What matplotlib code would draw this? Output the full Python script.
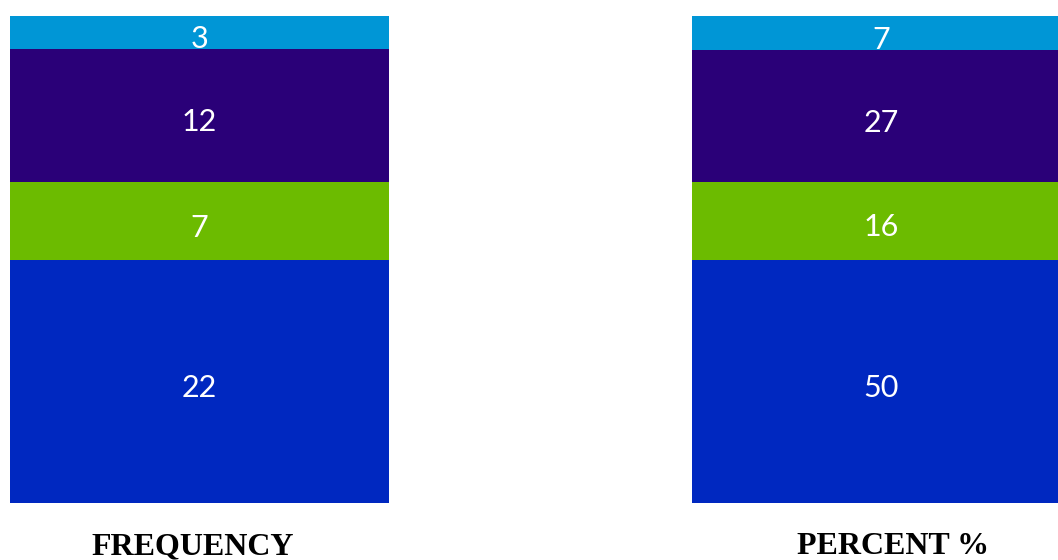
import numpy as np
import matplotlib
matplotlib.use('Agg')
import matplotlib.pyplot as plt

# DATA
frequency = [22, 7, 12, 3]      # bottom -> top
percent = [50, 16, 27, 7]       # bottom -> top
bar_labels = ['FREQUENCY', 'PERCENT %']
colors = ['#0028C0', '#6CBB00', '#2A0078', '#0096D6']

W, H = 1058, 560
fig = plt.figure(figsize=(W / 100, H / 100), dpi=100)

# AXES POSITIONS (pixels -> figure fraction)
bottom = (H - 503) / H
height = 487 / H
ax_left = fig.add_axes([10 / W, bottom, 379 / W, height])
ax_right = fig.add_axes([692 / W, bottom, 379 / W, height])


def stacked_bar(ax, values):
    base = 0
    for v, c in zip(values, colors):
        ax.bar(0, v, bottom=base, width=1.0, color=c, edgecolor='none')
        ax.text(0, base + v / 2 - sum(values) * 0.014, str(v), ha='center', va='center',
                color='white', fontsize=22, family='Lato')
        base += v
    ax.set_xlim(-0.5, 0.5)
    ax.set_ylim(0, sum(values))
    ax.axis('off')


stacked_bar(ax_left, frequency)
stacked_bar(ax_right, percent)

# LABELS UNDER THE BARS
fig.text(193 / W, 1 - 547 / H, bar_labels[0], ha='center', va='center',
         fontsize=23, fontweight='bold', family='Liberation Serif')
fig.text(893 / W, 1 - 547 / H, bar_labels[1], ha='center', va='center',
         fontsize=23, fontweight='bold', family='Liberation Serif')

fig.savefig('out.png', dpi=100, facecolor='white')
